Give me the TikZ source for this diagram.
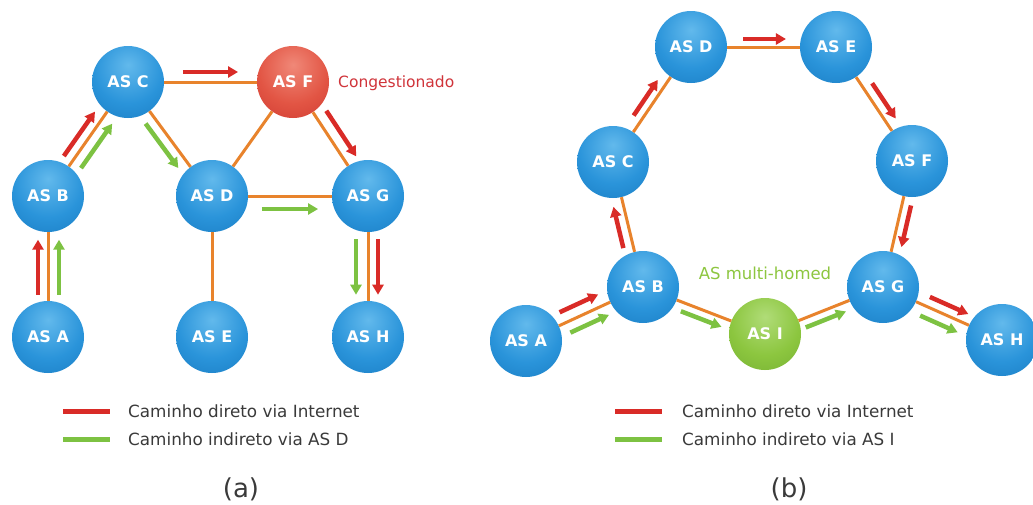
\documentclass[tikz,border=0pt]{standalone}
\usepackage{fontspec}
\setmainfont{DejaVu Sans}
\usetikzlibrary{calc,arrows.meta}
\definecolor{bla}{HTML}{62B9EC}
\definecolor{blb}{HTML}{2A94DA}
\definecolor{blc}{HTML}{1373BA}
\definecolor{rda}{HTML}{F08878}
\definecolor{rdb}{HTML}{E25544}
\definecolor{rdc}{HTML}{C8302A}
\definecolor{gra}{HTML}{B0DC78}
\definecolor{grb}{HTML}{8CC63F}
\definecolor{grc}{HTML}{6DA82E}
\definecolor{edgeor}{HTML}{E8832C}
\definecolor{arrred}{HTML}{D92B27}
\definecolor{arrgreen}{HTML}{7DC242}
\definecolor{txtgray}{HTML}{3A3A3A}
\definecolor{congred}{HTML}{D0343A}
\definecolor{mhgreen}{HTML}{8DC63F}
\pgfdeclareradialshading{blueball}{\pgfpoint{0bp}{12bp}}{color(0bp)=(bla); color(24bp)=(blb); color(50bp)=(blc); color(100bp)=(blc)}
\pgfdeclareradialshading{redball}{\pgfpoint{0bp}{12bp}}{color(0bp)=(rda); color(24bp)=(rdb); color(50bp)=(rdc); color(100bp)=(rdc)}
\pgfdeclareradialshading{greenball}{\pgfpoint{0bp}{12bp}}{color(0bp)=(gra); color(24bp)=(grb); color(50bp)=(grc); color(100bp)=(grc)}
\tikzset{
  asnode/.style={circle, minimum size=72pt, inner sep=0pt, shading=blueball,
     text=white, font=\fontsize{16}{16}\selectfont\bfseries},
  asred/.style={asnode, shading=redball},
  asgreen/.style={asnode, shading=greenball},
  edge/.style={draw=edgeor, line width=3pt},
  redarr/.style={draw=arrred, line width=4.5pt, -{Triangle[length=10pt,width=11pt]}},
  greenarr/.style={draw=arrgreen, line width=4.5pt, -{Triangle[length=10pt,width=11pt]}},
  legtext/.style={anchor=base west, text=txtgray, font=\fontsize{16.8}{17}\selectfont, inner sep=0pt},
  legred/.style={draw=arrred, line width=5pt},
  leggreen/.style={draw=arrgreen, line width=5pt},
  caption/.style={text=txtgray, font=\fontsize{26}{26}\selectfont, inner sep=0pt}
}
\newcommand{\parr}[6]{\draw[#1] ($(#2)!#4!(#3)!#6!90:(#3)$) -- ($(#2)!#5!(#3)!#6!90:(#3)$);}
\begin{document}
\begin{tikzpicture}[x=1pt,y=-1pt]
\clip (0,0) rectangle (1033,504);
\fill[white] (0,0) rectangle (1033,504);
% ---------- (a) ----------
\node[asnode] (lA) at (48,337) {AS A};
\node[asnode] (lB) at (48,196) {AS B};
\node[asnode] (lC) at (128,82) {AS C};
\node[asnode] (lD) at (212,196) {AS D};
\node[asnode] (lE) at (212,337) {AS E};
\node[asred]  (lF) at (293,82) {AS F};
\node[asnode] (lG) at (368,196) {AS G};
\node[asnode] (lH) at (368,337) {AS H};
\draw[edge] (lC) -- (lF);
\draw[edge] (lC) -- (lB);
\draw[edge] (lC) -- (lD);
\draw[edge] (lF) -- (lD);
\draw[edge] (lF) -- (lG);
\draw[edge] (lD) -- (lG);
\draw[edge] (lD) -- (lE);
\draw[edge] (lB) -- (lA);
\draw[edge] (lG) -- (lH);
\node[anchor=base west, inner sep=0pt, text=congred, font=\fontsize{15.5}{16}\selectfont] (cong) at (338,87) {Congestionado};
\parr{redarr}{lC}{lF}{0.333}{0.667}{10pt}
\parr{redarr}{lB}{lC}{0.30}{0.69}{10pt}
\parr{greenarr}{lB}{lC}{0.30}{0.69}{-11pt}
\parr{greenarr}{lC}{lD}{0.31}{0.70}{-10.5pt}
\parr{redarr}{lF}{lG}{0.31}{0.71}{12pt}
\parr{greenarr}{lD}{lG}{0.32}{0.68}{-13pt}
\parr{redarr}{lA}{lB}{0.30}{0.69}{10pt}
\parr{greenarr}{lA}{lB}{0.30}{0.69}{-11pt}
\parr{greenarr}{lG}{lH}{0.305}{0.70}{-12pt}
\parr{redarr}{lG}{lH}{0.305}{0.70}{10pt}
% legend (a)
\node[legtext] (la1) at (128,417) {Caminho direto via Internet};
\node[legtext] (la2) at (128,445) {Caminho indireto via AS D};
\draw[legred] ($(la1.base west)+(-65,-6)$) -- ($(la1.base west)+(-18,-6)$);
\draw[leggreen] ($(la2.base west)+(-65,-6)$) -- ($(la2.base west)+(-18,-6)$);
\node[caption] (capa) at (241,489) {(a)};
% ---------- (b) ----------
\node[asnode] (rA) at (526,341) {AS A};
\node[asnode] (rB) at (643,287) {AS B};
\node[asnode] (rC) at (613,162) {AS C};
\node[asnode] (rD) at (691,47) {AS D};
\node[asnode] (rE) at (836,47) {AS E};
\node[asnode] (rF) at (912,161) {AS F};
\node[asnode] (rG) at (883,287) {AS G};
\node[asnode] (rH) at (1002,340) {AS H};
\node[asgreen] (rI) at (765,334) {AS I};
\draw[edge] (rA) -- (rB);
\draw[edge] (rB) -- (rC);
\draw[edge] (rC) -- (rD);
\draw[edge] (rD) -- (rE);
\draw[edge] (rE) -- (rF);
\draw[edge] (rF) -- (rG);
\draw[edge] (rG) -- (rH);
\draw[edge] (rB) -- (rI);
\draw[edge] (rI) -- (rG);
\node[anchor=base, inner sep=0pt, text=mhgreen, font=\fontsize{16.5}{17}\selectfont] (mh) at (765,279) {AS multi-homed};
\parr{redarr}{rA}{rB}{0.33}{0.66}{12pt}
\parr{greenarr}{rA}{rB}{0.34}{0.67}{-11pt}
\parr{redarr}{rB}{rC}{0.33}{0.66}{10pt}
\parr{redarr}{rC}{rD}{0.36}{0.67}{9pt}
\parr{redarr}{rD}{rE}{0.36}{0.655}{8pt}
\parr{redarr}{rE}{rF}{0.366}{0.676}{10pt}
\parr{redarr}{rF}{rG}{0.337}{0.667}{9pt}
\parr{greenarr}{rB}{rI}{0.337}{0.67}{-9pt}
\parr{greenarr}{rI}{rG}{0.317}{0.658}{-9pt}
\parr{redarr}{rG}{rH}{0.36}{0.683}{10pt}
\parr{greenarr}{rG}{rH}{0.35}{0.665}{-11pt}
% legend (b)
\node[legtext] (lb1) at (682,417) {Caminho direto via Internet};
\node[legtext] (lb2) at (682,445) {Caminho indireto via AS I};
\draw[legred] ($(lb1.base west)+(-67,-6)$) -- ($(lb1.base west)+(-20,-6)$);
\draw[leggreen] ($(lb2.base west)+(-67,-6)$) -- ($(lb2.base west)+(-20,-6)$);
\node[caption] (capb) at (789,489) {(b)};
\end{tikzpicture}
\end{document}
